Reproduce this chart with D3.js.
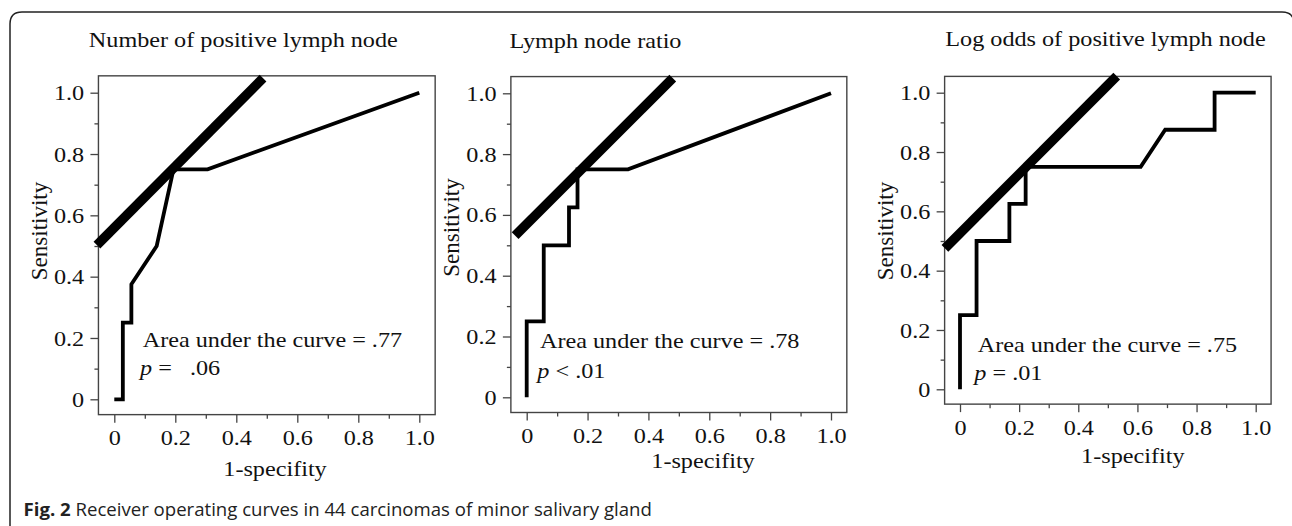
<!DOCTYPE html>
<html>
<head>
<meta charset="utf-8">
<script src="https://cdn.jsdelivr.net/npm/d3@7"></script>
<style>
html, body { margin: 0; padding: 0; background: #fff; }
svg { display: block; }
.serif { font-family: "Liberation Serif", "Times New Roman", serif; fill: #111; }
</style>
</head>
<body>
<svg id="fig" width="1292" height="526"></svg>
<script>
////////////////////////////////////////////////
// data
////////////////////////////////////////////////

var panelTitles = ["Number of positive lymph node", "Lymph node ratio", "Log odds of positive lymph node"];
var aucText = ["Area under the curve = .77", "Area under the curve = .78", "Area under the curve = .75"];
var pText = [" =   .06", " < .01", " = .01"];

var tickValues = [0, 0.2, 0.4, 0.6, 0.8, 1.0];
var tickLabels = ["0", "0.2", "0.4", "0.6", "0.8", "1.0"];
var minorTicks = [0.1, 0.3, 0.5, 0.7, 0.9];

var fpr1 = [0, 0.028, 0.028, 0.056, 0.056, 0.139, 0.194, 0.306, 1.0];
var tpr1 = [0, 0, 0.25, 0.25, 0.375, 0.5, 0.75, 0.75, 1.0];

var fpr2 = [0, 0, 0.056, 0.056, 0.139, 0.139, 0.167, 0.167, 0.333, 1.0];
var tpr2 = [0, 0.25, 0.25, 0.5, 0.5, 0.625, 0.625, 0.75, 0.75, 1.0];

var fpr3 = [0, 0, 0.056, 0.056, 0.167, 0.167, 0.222, 0.222, 0.611, 0.694, 0.861, 0.861, 1.0];
var tpr3 = [0, 0.25, 0.25, 0.5, 0.5, 0.625, 0.625, 0.75, 0.75, 0.875, 0.875, 1.0, 1.0];

// thick line: sensitivity = (1-specifity) + intercept
var refIntercept = [0.56, 0.57, 0.526];
var refFrom = [-0.057, -0.038, -0.051];
var refTo = [0.4875, 0.48, 0.53];

////////////////////////////////////////////////
// layout (pixels)
////////////////////////////////////////////////

var layout = [
    {x0: 114.3, x1: 419.3, y0: 399.3, y1: 92.7, title: [243.3, 46.7], xlab: [275, 476], ylab: [47, 231], auc: [142.7, 346.7], p: [140, 375]},
    {x0: 526.7, x1: 831, y0: 397.3, y1: 93.3, title: [595.5, 48.3], xlab: [703, 468], ylab: [459.3, 227.5], auc: [540, 348.3], p: [537.3, 378.3]},
    {x0: 960, x1: 1255.7, y0: 389.3, y1: 92.7, title: [1105.5, 45.5], xlab: [1132.8, 463.3], ylab: [892.7, 231], auc: [977.7, 351.7], p: [974.3, 380]}
];

var curves = [[fpr1, tpr1], [fpr2, tpr2], [fpr3, tpr3]];
var boxX = [-0.052, 1.052];
var boxY = [-0.05, 1.055];
var fontSize = 22;
var stretch = 1.1;

var svg = d3.select("#fig");

// outer frame, open at the bottom, right side just off the picture
svg.append("path")
    .attr("d", "M 10 540 L 10 24 Q 10 12 22 12 L 1282 12 Q 1294 12 1294 24 L 1294 540")
    .attr("fill", "none")
    .attr("stroke", "#222")
    .attr("stroke-width", 1.5);

function stretchText(sel, x, y) {
    sel.attr("transform", "translate(" + x + "," + y + ") scale(" + stretch + ",1)");
}

////////////////////////////////////////////////
// panels
////////////////////////////////////////////////

layout.forEach(function(L, i) {
    var x = d3.scaleLinear().domain([0, 1]).range([L.x0, L.x1]);
    var y = d3.scaleLinear().domain([0, 1]).range([L.y0, L.y1]);
    var g = svg.append("g");

    var left = x(boxX[0]), right = x(boxX[1]);
    var top = y(boxY[1]), bottom = y(boxY[0]);

    // minor ticks
    g.append("g")
        .attr("transform", "translate(" + left + ",0)")
        .call(d3.axisLeft(y).tickValues(minorTicks).tickSize(4).tickFormat(""))
        .call(function(a) { a.select(".domain").remove(); });
    g.append("g")
        .attr("transform", "translate(0," + bottom + ")")
        .call(d3.axisBottom(x).tickValues(minorTicks).tickSize(4).tickFormat(""))
        .call(function(a) { a.select(".domain").remove(); });

    // major ticks
    var ya = g.append("g")
        .attr("transform", "translate(" + left + ",0)")
        .call(d3.axisLeft(y).tickValues(tickValues).tickSize(8).tickPadding(5)
            .tickFormat(function(d, k) { return tickLabels[k]; }));
    var xa = g.append("g")
        .attr("transform", "translate(0," + bottom + ")")
        .call(d3.axisBottom(x).tickValues(tickValues).tickSize(8).tickPadding(7)
            .tickFormat(function(d, k) { return tickLabels[k]; }));

    [ya, xa].forEach(function(a) {
        a.select(".domain").remove();
        a.selectAll("text")
            .attr("class", "serif")
            .attr("font-size", fontSize)
            .attr("fill", "#111")
            .attr("transform", "scale(" + stretch + ",1)");
    });
    g.selectAll(".tick line").attr("stroke", "#444").attr("stroke-width", 1.3);

    // box
    g.append("rect")
        .attr("x", left).attr("y", top)
        .attr("width", right - left).attr("height", bottom - top)
        .attr("fill", "none")
        .attr("stroke", "#444")
        .attr("stroke-width", 1.4);

    // ROC curve
    var fpr = curves[i][0], tpr = curves[i][1];
    var line = d3.line()
        .x(function(d, k) { return x(fpr[k]); })
        .y(function(d, k) { return y(tpr[k]); });
    g.append("path")
        .attr("d", line(fpr))
        .attr("fill", "none")
        .attr("stroke", "#000")
        .attr("stroke-width", 3.8)
        .attr("stroke-linejoin", "miter");

    // thick line
    g.append("line")
        .attr("x1", x(refFrom[i])).attr("y1", y(refFrom[i] + refIntercept[i]))
        .attr("x2", x(refTo[i])).attr("y2", y(refTo[i] + refIntercept[i]))
        .attr("stroke", "#000")
        .attr("stroke-width", 9.5);

    // texts
    g.append("text").attr("class", "serif")
        .attr("font-size", fontSize)
        .attr("text-anchor", "middle")
        .text(panelTitles[i])
        .call(stretchText, L.title[0], L.title[1]);

    g.append("text").attr("class", "serif")
        .attr("font-size", fontSize)
        .attr("text-anchor", "middle")
        .text("1-specifity")
        .call(stretchText, L.xlab[0], L.xlab[1]);

    g.append("text").attr("class", "serif")
        .attr("font-size", fontSize + 1)
        .attr("text-anchor", "middle")
        .attr("transform", "translate(" + L.ylab[0] + "," + L.ylab[1] + ") rotate(-90)")
        .text("Sensitivity");

    g.append("text").attr("class", "serif")
        .attr("font-size", fontSize)
        .text(aucText[i])
        .call(stretchText, L.auc[0], L.auc[1]);

    var pt = g.append("text").attr("class", "serif")
        .attr("font-size", fontSize)
        .style("white-space", "pre")
        .call(stretchText, L.p[0], L.p[1]);
    pt.append("tspan").attr("font-style", "italic").text("p");
    pt.append("tspan").text(pText[i]);
});

////////////////////////////////////////////////
// caption
////////////////////////////////////////////////

var cap = svg.append("text")
    .attr("x", 23.5).attr("y", 516)
    .attr("font-family", "'Open Sans', 'Noto Sans', sans-serif")
    .attr("font-size", 18.6)
    .attr("fill", "#222");
cap.append("tspan").attr("font-weight", "bold").text("Fig. 2");
cap.append("tspan").text(" Receiver operating curves in 44 carcinomas of minor salivary gland");
</script>
</body>
</html>
